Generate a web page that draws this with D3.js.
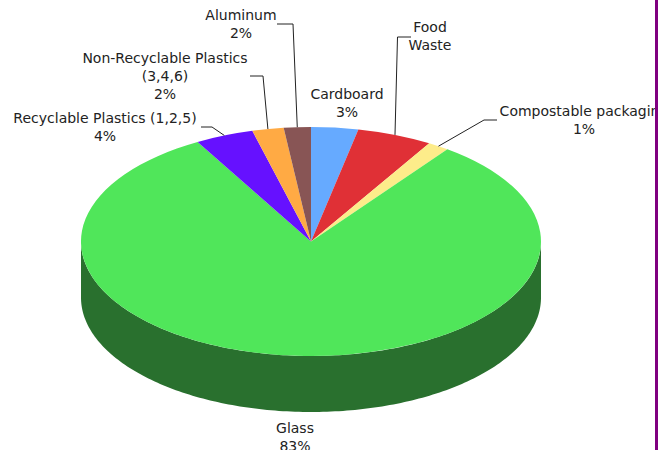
<!DOCTYPE html>
<html>
<head>
<meta charset="utf-8">
<script src="https://cdnjs.cloudflare.com/ajax/libs/d3/7.8.5/d3.min.js"></script>
<style>
    html, body { margin: 0; padding: 0; background: #fff; overflow: hidden; }
    svg { display: block; }
    text { font-family: "DejaVu Sans", Verdana, sans-serif; font-size: 14px; fill: #222; text-anchor: middle; }
    .leader { fill: none; stroke: #222; stroke-width: 1; }
</style>
</head>
<body>
<div id="chart"></div>
<script>
// slice order runs clockwise from 12 o'clock
const categories = ["Cardboard", "Food Waste", "Compostable packaging", "Glass",
    "Recyclable Plastics (1,2,5)", "Non-Recyclable Plastics (3,4,6)", "Aluminum"];
const values = [3.3, 5.3, 1.5, 81.7, 4.1, 2.2, 1.9];
const colors = ["#66aaff", "#e03036", "#fdec8a", "#50e65a", "#6611ff", "#ffaa44", "#885555"];
const sideColor = "#29702e";

const width = 658, height = 450;
const cx = 311, cy = 241.5, rx = 230, ry = 114.5, depth = 56;

// label text lines and leader bends, by category
const labelLayout = {
    "Cardboard": {lines: ["Cardboard", "3%"], x: 347, y: 99},
    "Food Waste": {lines: ["Food", "Waste"], x: 430, y: 32, bends: [[397.5, 37], [411, 37]]},
    "Compostable packaging": {lines: ["Compostable packaging", "1%"], x: 584, y: 116, bends: [[484, 120], [497, 120]]},
    "Glass": {lines: ["Glass", "83%"], x: 295, y: 433},
    "Recyclable Plastics (1,2,5)": {lines: ["Recyclable Plastics (1,2,5)", "4%"], x: 105, y: 123, bends: [[212, 127], [201, 127]]},
    "Non-Recyclable Plastics (3,4,6)": {lines: ["Non-Recyclable Plastics", "(3,4,6)", "2%"], x: 165, y: 63, bends: [[263, 76], [250, 76]]},
    "Aluminum": {lines: ["Aluminum", "2%"], x: 241, y: 20, bends: [[293, 24], [277, 24]]}
};

const svg = d3.select("#chart").append("svg")
    .attr("width", width)
    .attr("height", height);

const slices = d3.pie().sort(null)(values);

const xScale = d3.scaleLinear().domain([-1, 1]).range([cx - rx, cx + rx]);
const yScale = d3.scaleLinear().domain([-1, 1]).range([cy - ry, cy + ry]);
const px = a => xScale(Math.sin(a));
const py = a => yScale(-Math.cos(a));

// side wall: only the front half of the rim can be seen
const front = d3.range(0, 181).map(i => Math.PI / 2 + i * Math.PI / 180);
const side = d3.area()
    .x(a => px(a))
    .y0(a => py(a))
    .y1(a => py(a) + depth);
svg.append("path")
    .attr("d", side(front))
    .attr("fill", sideColor);

// top face, a flat pie squashed into the ellipse
const arc = d3.arc().innerRadius(0).outerRadius(1);
svg.append("g")
    .attr("transform", `translate(${cx},${cy}) scale(${rx},${ry})`)
    .selectAll("path")
    .data(slices)
    .join("path")
    .attr("d", arc)
    .attr("fill", (d, i) => colors[i]);

// leaders start on the rim at the middle of the slice
const line = d3.line();
slices.forEach((d, i) => {
    const layout = labelLayout[categories[i]];
    if (!layout.bends) return;
    const mid = (d.startAngle + d.endAngle) / 2;
    svg.append("path")
        .attr("class", "leader")
        .attr("d", line([[px(mid), py(mid)]].concat(layout.bends)));
});

categories.forEach(name => {
    const layout = labelLayout[name];
    const label = svg.append("text").attr("x", layout.x).attr("y", layout.y);
    layout.lines.forEach((t, j) => {
        label.append("tspan").attr("x", layout.x).attr("dy", j ? 18 : 0).text(t);
    });
});

// purple page edge sits over the clipped label
svg.append("rect")
    .attr("x", 655).attr("y", 0)
    .attr("width", 3).attr("height", height)
    .attr("fill", "#800080");
</script>
</body>
</html>
